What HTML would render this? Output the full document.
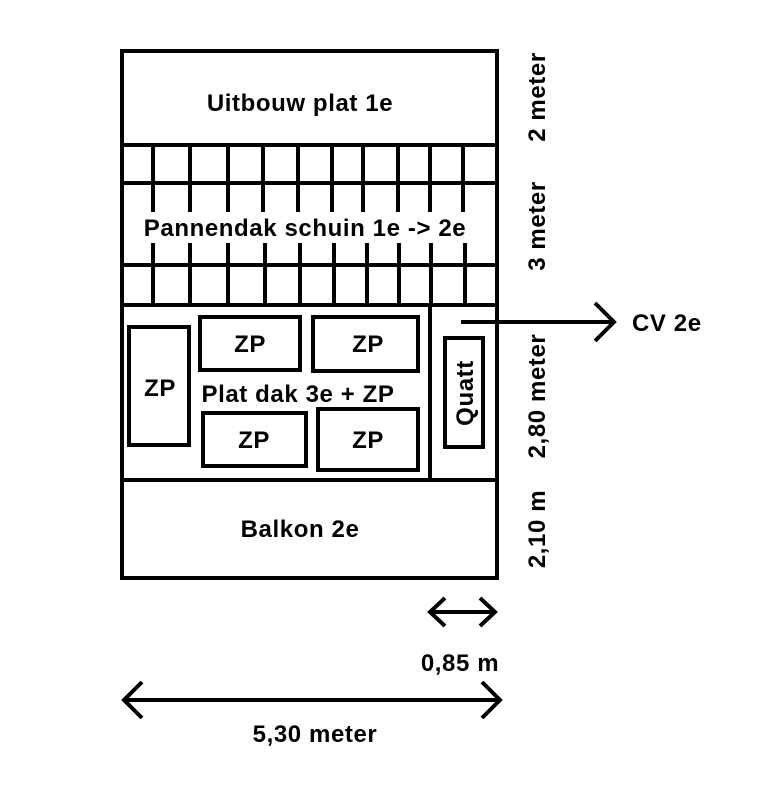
<!DOCTYPE html><html><head><style>body{margin:0;background:#fff}</style></head><body>
<svg width="759" height="800" xmlns="http://www.w3.org/2000/svg" font-family="Liberation Sans, sans-serif" font-weight="bold" font-size="24" letter-spacing="0.6">
<rect width="759" height="800" fill="#fff"/>
<g stroke="#000" stroke-width="4" fill="none">
<rect x="122" y="51" width="375" height="527"/>
<line x1="122" y1="145" x2="497" y2="145"/>
<line x1="122" y1="183" x2="497" y2="183"/>
<line x1="122" y1="265" x2="497" y2="265"/>
<line x1="120" y1="305" x2="499" y2="305"/>
<line x1="122" y1="480" x2="499" y2="480"/>
<line x1="430" y1="305" x2="430" y2="480"/>
<g>
<line x1="153" y1="145" x2="153" y2="212"/><line x1="190" y1="145" x2="190" y2="212"/><line x1="228" y1="145" x2="228" y2="212"/><line x1="263" y1="145" x2="263" y2="212"/><line x1="298" y1="145" x2="298" y2="212"/><line x1="332" y1="145" x2="332" y2="212"/><line x1="363" y1="145" x2="363" y2="212"/><line x1="398" y1="145" x2="398" y2="212"/><line x1="430" y1="145" x2="430" y2="212"/><line x1="463" y1="145" x2="463" y2="212"/>
<line x1="153" y1="243" x2="153" y2="305"/><line x1="190" y1="243" x2="190" y2="305"/><line x1="228" y1="243" x2="228" y2="305"/><line x1="265" y1="243" x2="265" y2="305"/><line x1="300" y1="243" x2="300" y2="305"/><line x1="334" y1="243" x2="334" y2="305"/><line x1="367" y1="243" x2="367" y2="305"/><line x1="399" y1="243" x2="399" y2="305"/><line x1="431" y1="243" x2="431" y2="305"/><line x1="465" y1="243" x2="465" y2="305"/>
</g>
<rect x="129" y="327" width="60" height="118"/>
<rect x="200" y="317" width="100" height="53"/>
<rect x="313" y="317" width="105" height="54"/>
<rect x="203" y="413" width="103" height="53"/>
<rect x="318" y="409" width="100" height="61"/>
<rect x="445" y="338" width="38" height="109"/>
<line x1="461" y1="322" x2="614" y2="322"/>
<polyline points="595,303 614,322 595,341"/>
<line x1="430" y1="612" x2="495" y2="612"/>
<polyline points="445,598 430,612 445,626"/><polyline points="480,598 495,612 480,626"/>
<line x1="124" y1="700" x2="500" y2="700"/>
<polyline points="142,682 124,700 142,718"/><polyline points="482,682 500,700 482,718"/>
</g>
<g text-anchor="middle" fill="#000">
<text x="300" y="111">Uitbouw plat 1e</text>
<rect x="140" y="212" width="330" height="30" fill="#fff"/>
<text x="305" y="236">Pannendak schuin 1e -&gt; 2e</text>
<text x="250" y="352">ZP</text><text x="368" y="352">ZP</text>
<text x="160" y="396">ZP</text>
<text x="298" y="402">Plat dak 3e + ZP</text>
<text x="254" y="448">ZP</text><text x="368" y="448">ZP</text>
<text x="300" y="537">Balkon 2e</text>
<text x="632" y="331" text-anchor="start">CV 2e</text>
<text x="460" y="671">0,85 m</text>
<text x="315" y="742">5,30 meter</text>
<text transform="translate(473,393) rotate(-90)">Quatt</text>
<text transform="translate(545,97) rotate(-90)">2 meter</text>
<text transform="translate(545,226) rotate(-90)">3 meter</text>
<text transform="translate(545,396) rotate(-90)">2,80 meter</text>
<text transform="translate(545,529) rotate(-90)">2,10 m</text>
</g>
</svg></body></html>
